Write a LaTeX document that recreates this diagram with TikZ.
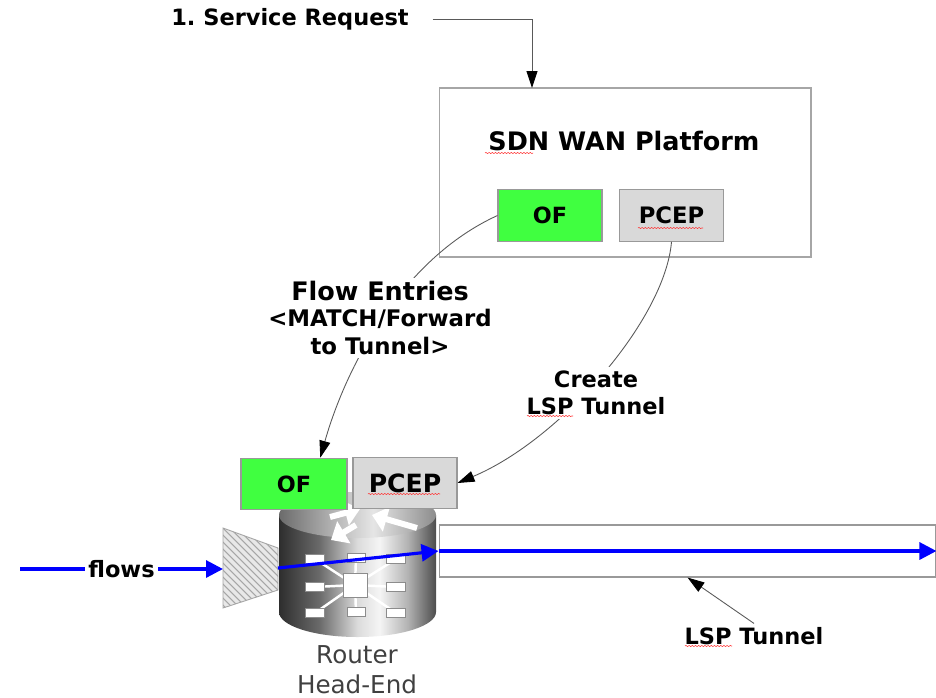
\documentclass[tikz,border=0pt]{standalone}
\usepackage{fontspec}
\setmainfont{DejaVu Sans}
\usepackage{tikz}
\usetikzlibrary{positioning,calc,arrows.meta}
\usetikzlibrary{decorations.pathmorphing}
\definecolor{ofgreen}{RGB}{64,255,64}
\definecolor{pcepgray}{RGB}{217,217,217}
\definecolor{flowblue}{RGB}{0,0,255}
\newcommand{\bfsz}[1]{\bfseries\fontsize{#1}{1.2\dimexpr#1pt\relax}\selectfont}
% metal look of the router cylinder
\pgfdeclarehorizontalshading{rtrbody}{100bp}{color(0bp)=(black!82); color(25bp)=(black!82);
	color(38bp)=(black!58); color(50bp)=(black!14); color(57bp)=(black!4); color(66bp)=(black!30); color(75bp)=(black!70); color(100bp)=(black!70)}
\pgfdeclarehorizontalshading{rtrtop}{100bp}{color(0bp)=(black!58); color(25bp)=(black!58);
	color(45bp)=(black!25); color(55bp)=(black!10); color(75bp)=(black!45); color(100bp)=(black!45)}
\tikzset{
	lbl/.style={font=\bfsz{12.8}, align=center, inner sep=2pt},
	box/.style={draw=gray!80, line width=0.6pt, minimum width=2.08cm, minimum height=1.03cm, inner sep=0pt},
	conn/.style={draw=gray!70!black, line width=0.5pt, -{Triangle[length=3.4mm,width=2.2mm,black]}},
	flow/.style={draw=flowblue, line width=1.8pt, -{Triangle[length=3.4mm,width=3.4mm]}},
	spell/.style={draw=red!80, line width=0.3pt, decorate, decoration={snake,amplitude=0.35pt,segment length=1.8pt}},
	chip/.style={fill=white, draw=black!45, line width=0.3pt}
}

\begin{document}
\begin{tikzpicture}[x=0.02cm,y=-0.02cm]
	\useasboundingbox (0,0) rectangle (936,697);
	% request into the platform
	\node[lbl] (req) at (290,19) {1.\ Service Request};
	\coordinate (reqIn) at (532,88);
	\node[draw=gray!70, line width=0.6pt, minimum width=7.44cm, minimum height=3.38cm] (wan) at (625,172.5) {};
	\node[lbl, font=\bfsz{14.5}] (wanTitle) at (624,141) {SDN WAN Platform};
	\node[box, fill=ofgreen, font=\bfsz{12.7}] (ofTop) at (550,215.5) {OF};
	\node[box, fill=pcepgray, font=\bfsz{12.9}] (pcepTop) at (671.5,215.5) {PCEP};
	\draw[conn] ([xshift=4mm]req.east) -| (reqIn);

	% router head-end (cylinder)
	\shade[shading=rtrbody]
		(279,515) -- (279,612) arc[start angle=180, end angle=0, x radius=78.5, y radius=25] -- (436,515) -- cycle;
	\shade[shading=rtrtop] (357.5,515) ellipse[x radius=78.5, y radius=23];
	\foreach \a/\b in {{(356,525)/(331,540)},{(417,528)/(372,515)},{(330,517)/(360,509)}}
		\draw[white, line width=3.4pt, -{Triangle[length=3mm,width=5mm]}] \a -- \b;
	\foreach \p in {(315,559),(315,587),(315,613),(396,559),(396,587),(396,613),(356,558),(356,612)}
		\draw[white, line width=1.4pt] (355,585) -- \p;
	\foreach \p in {(315,559),(315,587),(315,613),(396,559),(396,587),(396,613)}
		\draw[chip] \p ++(-9.5,-4.5) rectangle ++(19,9);
	\foreach \p in {(356,558),(356,612)}
		\draw[chip] \p ++(-9,-4.5) rectangle ++(18,9);
	\draw[chip] (343,573) rectangle (367,597);
	\node[font=\fontsize{14}{17}\selectfont, text=black!75, align=center] (rtrLbl) at (357,670) {Router\\Head-End};

	% hatched ingress port
	\fill[gray!18] (223,528) -- (278,548) -- (278,590) -- (223,608) -- cycle;
	\begin{scope}
		\clip (223,528) -- (278,548) -- (278,590) -- (223,608) -- cycle;
		\foreach \k in {0,...,26}
			\draw[gray!70, line width=0.6pt] (110+\k*7,520) -- ++(100,100);
	\end{scope}
	\draw[gray!70, line width=0.5pt] (223,528) -- (278,548) -- (278,590) -- (223,608) -- cycle;
	\coordinate (trapL) at (223,569);
	\coordinate (trapR) at (278,568);
	\coordinate (flowsIn) at (20,569);

	% router agents
	\node[box, fill=ofgreen, minimum width=2.12cm, font=\bfsz{12.7}] (ofRtr) at (294,484) {OF};
	\node[box, fill=pcepgray, font=\bfsz{14.3}] (pcepRtr) at (405,483) {PCEP};

	% LSP tunnel
	\node[draw=gray!80, line width=0.6pt, minimum width=9.94cm, minimum height=1.04cm] (tunnel) at (687.5,551) {};
	\draw[flow] (flowsIn) -- node[lbl, fill=white] (flowsLbl) {flows} (trapL);
	\draw[flow] (trapR) -- (tunnel.west);
	\draw[flow] (tunnel.west) -- (tunnel.east);
	\node[lbl] (lspLbl) at (754,636) {LSP Tunnel};
	\draw[conn] (lspLbl.north) -- (tunnel.south);

	% control channels
	\draw[conn] (ofTop.west) .. controls (400,260) and (345,370) .. (ofRtr.45);
	\node[lbl, fill=white, font=\bfsz{13}] (flowLbl) at (380,318) {{\bfsz{14.5}Flow Entries}\\[-1pt]<MATCH/Forward\\to Tunnel>};
	\draw[conn] (pcepTop.south) .. controls (665,320) and (560,440) .. (pcepRtr.east);
	\node[lbl, fill=white, font=\bfsz{12.8}] (createLbl) at (596,393) {Create\\LSP Tunnel};

	% spell-check marks
	\foreach \l/\r/\y in {485/533/153, 638/703/228, 368/440/494, 527/573/416, 685/732/646}
		\draw[spell] (\l,\y) -- (\r,\y);
\end{tikzpicture}
\end{document}
